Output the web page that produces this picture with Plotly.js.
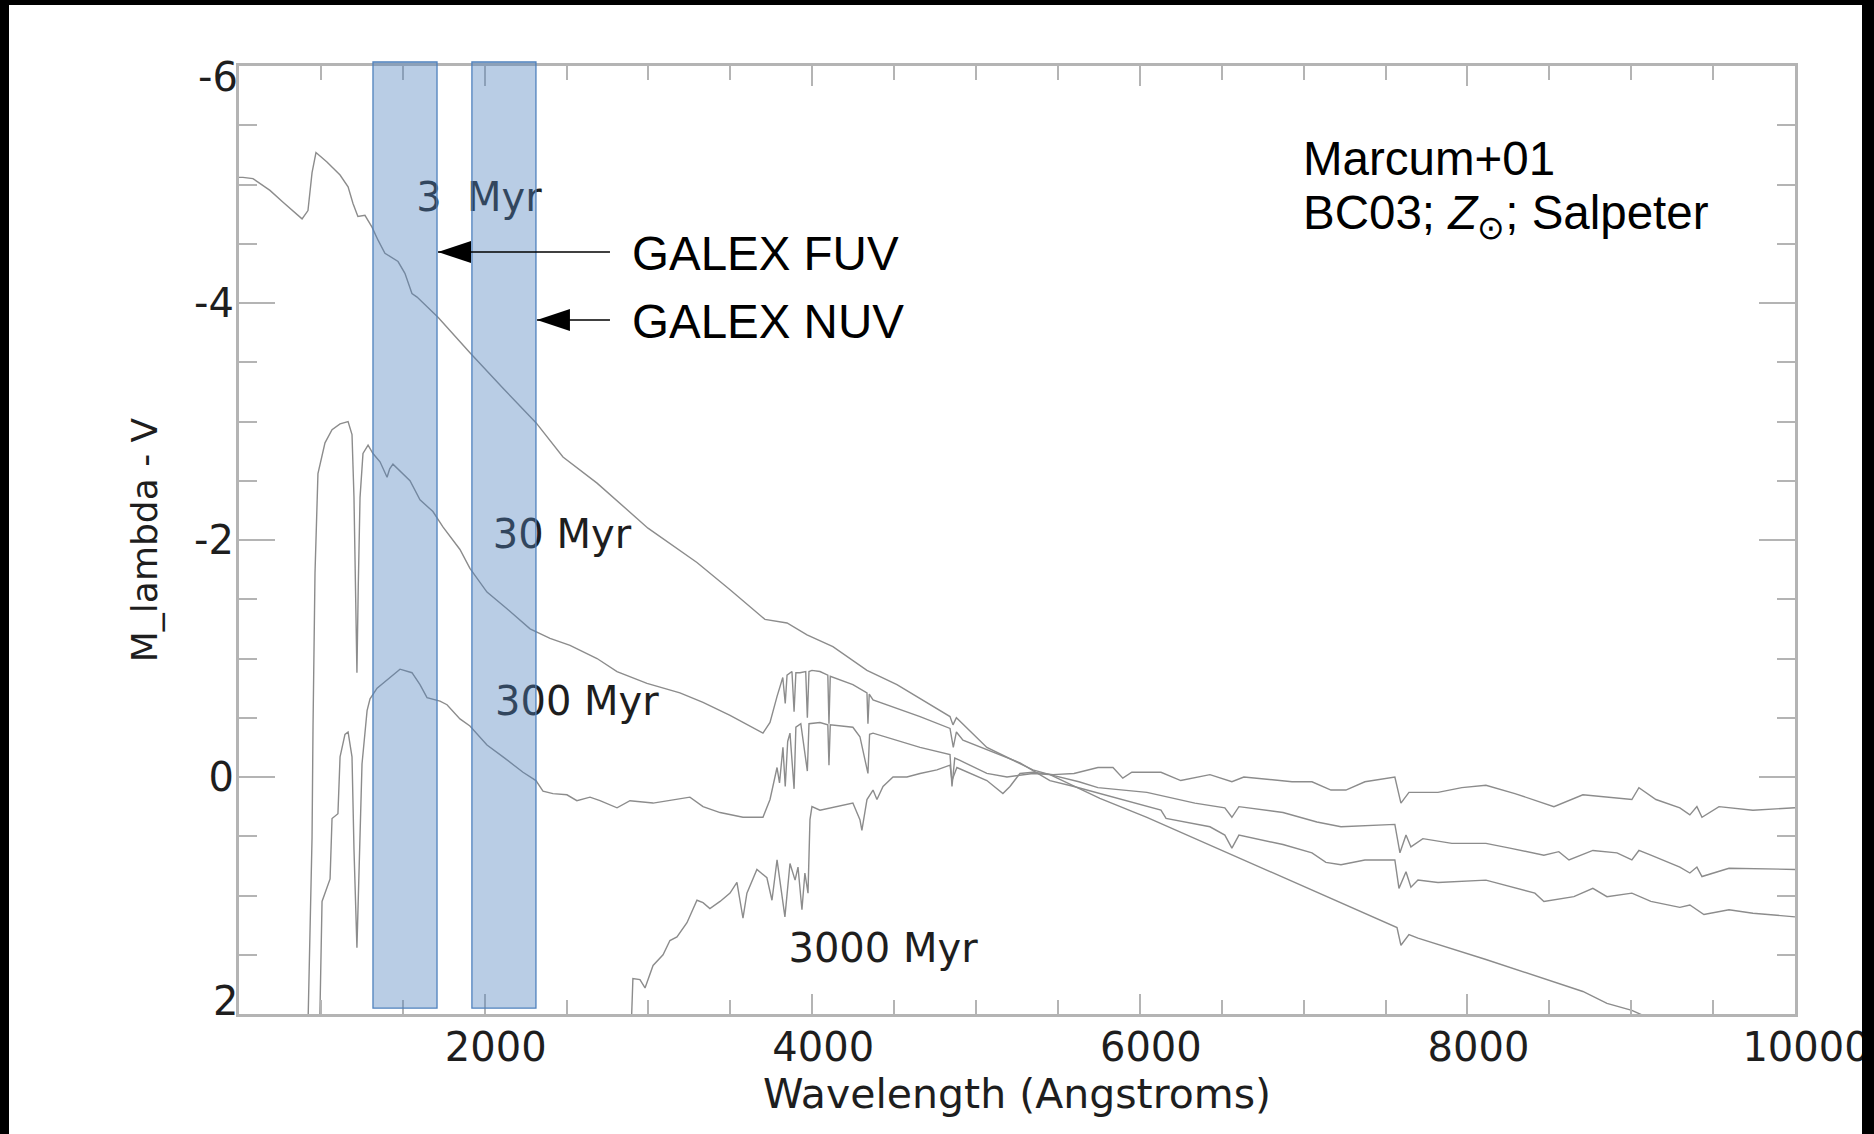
<!DOCTYPE html>
<html>
<head>
<meta charset="utf-8">
<script src="https://cdn.plot.ly/plotly-3.0.1.min.js"></script>
<style>
  html, body { margin: 0; padding: 0; background: #000; width: 1874px; height: 1134px; overflow: hidden; }
  #chart { position: absolute; left: 9px; top: 5px; width: 1853px; height: 1129px; }
</style>
</head>
<body>
<div id="chart"></div>
<script>
// ---- Data ----
const wave3 = [500, 524, 585, 689, 769, 885, 921, 946, 970, 1037, 1117, 1166, 1196, 1226, 1269, 1312, 1349, 1391, 1471, 1513, 1556, 1587, 1715, 1910, 2112, 2313, 2478, 2686, 2997, 3296, 3498, 3711, 3846, 3968, 4126, 4334, 4517, 4841, 4859, 4880, 5066, 5347, 5451, 5756, 6043, 6635, 7228, 7570, 7594, 7643, 7698, 8113, 8705, 8852, 9004, 9300];
const mag3 = [-5.06, -5.06, -5.05, -4.95, -4.85, -4.71, -4.78, -5.10, -5.27, -5.19, -5.08, -4.98, -4.84, -4.73, -4.74, -4.64, -4.53, -4.42, -4.35, -4.25, -4.08, -4.05, -3.88, -3.58, -3.28, -2.99, -2.70, -2.48, -2.10, -1.81, -1.58, -1.33, -1.30, -1.20, -1.10, -0.90, -0.78, -0.51, -0.44, -0.50, -0.25, -0.06, -0.02, 0.18, 0.34, 0.70, 1.06, 1.27, 1.42, 1.33, 1.36, 1.54, 1.81, 1.91, 1.97, 2.15];

const wave30 = [918, 946, 952, 964, 982, 1025, 1068, 1117, 1166, 1190, 1202, 1214, 1220, 1228, 1239, 1257, 1288, 1318, 1361, 1404, 1420, 1440, 1544, 1605, 1684, 1745, 1849, 1910, 2014, 2136, 2277, 2399, 2521, 2686, 2808, 2991, 3192, 3333, 3498, 3699, 3742, 3785, 3820, 3835, 3846, 3876, 3889, 3900, 3925, 3960, 3970, 3980, 3998, 4047, 4095, 4102, 4110, 4248, 4334, 4340, 4348, 4371, 4658, 4841, 4861, 4880, 4920, 5268, 5451, 5598, 5896, 6129, 6160, 6428, 6519, 6562, 6605, 6874, 7051, 7136, 7228, 7374, 7557, 7582, 7625, 7655, 7698, 7820, 8113, 8412, 8467, 8650, 8766, 8852, 9004, 9120, 9297, 9358, 9444, 9597, 9743, 10000];
const mag30 = [2.3, 0.51, -0.43, -1.72, -2.56, -2.82, -2.93, -2.98, -3.00, -2.89, -2.36, -1.40, -0.88, -1.60, -2.36, -2.73, -2.80, -2.73, -2.66, -2.53, -2.60, -2.64, -2.50, -2.34, -2.24, -2.11, -1.92, -1.76, -1.56, -1.42, -1.25, -1.17, -1.11, -1.00, -0.89, -0.79, -0.71, -0.63, -0.52, -0.37, -0.46, -0.68, -0.84, -0.62, -0.86, -0.89, -0.55, -0.88, -0.88, -0.89, -0.50, -0.89, -0.90, -0.89, -0.86, -0.45, -0.85, -0.78, -0.71, -0.45, -0.70, -0.65, -0.51, -0.41, -0.25, -0.38, -0.31, -0.12, 0.03, 0.08, 0.19, 0.28, 0.35, 0.42, 0.49, 0.60, 0.49, 0.57, 0.64, 0.72, 0.74, 0.70, 0.70, 0.94, 0.80, 0.93, 0.87, 0.89, 0.87, 0.98, 1.05, 1.01, 0.94, 1.01, 0.98, 1.05, 1.10, 1.08, 1.16, 1.12, 1.15, 1.18];

const wave300 = [990, 1007, 1056, 1068, 1104, 1117, 1147, 1166, 1190, 1202, 1220, 1239, 1251, 1282, 1300, 1343, 1404, 1465, 1483, 1556, 1605, 1648, 1727, 1770, 1849, 1910, 2014, 2112, 2234, 2313, 2356, 2417, 2502, 2563, 2643, 2704, 2808, 2887, 3028, 3253, 3333, 3437, 3577, 3699, 3742, 3785, 3800, 3821, 3835, 3850, 3864, 3889, 3900, 3930, 3970, 3980, 4047, 4095, 4102, 4110, 4248, 4291, 4340, 4350, 4371, 4658, 4841, 4853, 4870, 4902, 5066, 5189, 5347, 5451, 5628, 5744, 6043, 6336, 6519, 6562, 6605, 6874, 7081, 7228, 7557, 7588, 7625, 7655, 7728, 7905, 8113, 8259, 8467, 8558, 8620, 8766, 8913, 9004, 9047, 9120, 9297, 9358, 9401, 9432, 9597, 10000];
const mag300 = [2.3, 1.05, 0.86, 0.35, 0.31, -0.17, -0.36, -0.38, -0.17, 0.61, 1.44, 0.38, -0.11, -0.56, -0.66, -0.75, -0.82, -0.89, -0.91, -0.88, -0.78, -0.67, -0.64, -0.61, -0.49, -0.43, -0.27, -0.17, -0.04, 0.03, 0.12, 0.14, 0.15, 0.20, 0.17, 0.20, 0.26, 0.20, 0.22, 0.17, 0.25, 0.30, 0.34, 0.34, 0.19, -0.08, 0.05, -0.25, 0.08, -0.30, -0.37, 0.10, -0.42, -0.45, -0.05, -0.45, -0.46, -0.44, -0.10, -0.44, -0.42, -0.34, -0.03, -0.36, -0.37, -0.25, -0.19, 0.08, -0.16, -0.14, -0.03, 0.00, -0.03, -0.02, 0.04, 0.09, 0.13, 0.22, 0.26, 0.34, 0.25, 0.30, 0.38, 0.42, 0.40, 0.64, 0.49, 0.59, 0.52, 0.56, 0.56, 0.60, 0.66, 0.63, 0.70, 0.62, 0.64, 0.70, 0.62, 0.66, 0.76, 0.81, 0.76, 0.84, 0.77, 0.78];

const wave3000 = [2895, 2905, 2948, 2979, 3028, 3089, 3131, 3174, 3235, 3296, 3333, 3375, 3437, 3498, 3540, 3577, 3601, 3662, 3723, 3754, 3785, 3803, 3833, 3864, 3895, 3913, 3937, 3955, 3974, 3986, 3998, 4047, 4151, 4248, 4291, 4303, 4334, 4371, 4395, 4432, 4493, 4578, 4658, 4761, 4841, 4853, 4883, 4963, 5066, 5164, 5207, 5268, 5347, 5470, 5598, 5744, 5836, 5896, 5951, 6129, 6250, 6428, 6562, 6635, 6929, 7051, 7167, 7258, 7374, 7557, 7594, 7643, 7820, 7966, 8113, 8290, 8528, 8705, 8852, 9004, 9047, 9151, 9297, 9358, 9401, 9432, 9536, 9743, 10000];
const mag3000 = [2.1, 1.70, 1.71, 1.78, 1.59, 1.50, 1.38, 1.35, 1.23, 1.04, 1.06, 1.11, 1.05, 0.98, 0.89, 1.19, 0.98, 0.78, 0.85, 1.04, 0.70, 0.87, 1.18, 0.73, 0.87, 0.76, 1.12, 0.81, 0.98, 0.36, 0.25, 0.28, 0.25, 0.22, 0.36, 0.45, 0.19, 0.11, 0.19, 0.08, 0.00, 0.00, -0.03, -0.06, -0.10, 0.03, -0.08, -0.03, 0.03, 0.14, 0.08, -0.03, -0.04, -0.02, -0.03, -0.08, -0.08, 0.01, -0.04, -0.04, 0.03, -0.02, 0.04, 0.00, 0.04, 0.04, 0.11, 0.11, 0.04, 0.00, 0.22, 0.13, 0.13, 0.09, 0.07, 0.14, 0.25, 0.15, 0.17, 0.19, 0.09, 0.19, 0.26, 0.32, 0.25, 0.34, 0.25, 0.28, 0.26];

// curve labels
const ageLabels = ['3  Myr', '30 Myr', '300 Myr', '3000 Myr'];
const ageLabelX = [1965, 2472, 2563, 4432];
const ageLabelY = [-4.86, -2.02, -0.61, 1.48];

// GALEX bands (Angstrom)
const bandNames = ['GALEX FUV', 'GALEX NUV'];
const bandLo = [1318, 1922];
const bandHi = [1709, 2313];
const arrowTipX = [1715, 2319];
const arrowY = [-4.43, -3.857];
const arrowTailX = [2765, 2765];
const bandTextX = [2887, 2887];
const bandTextY = [-4.414, -3.84];

// axis ticks
const xTickVals = [2000, 4000, 6000, 8000, 10000];
const xTickText = ['2000', '4000', '6000', '8000', '10000'];
const yTickVals = [-6, -4, -2, 0, 2];
const yTickText = ['-6', '-4', '-2', '0', '2'];

// ---- Figure ----
const lineStyle = {color: '#8c8c8c', width: 1.4};
const idlFont = 'DejaVu Sans';
const textCol = '#1e1e1e';
const traces = [
  {x: wave3, y: mag3, mode: 'lines', line: lineStyle, hoverinfo: 'skip'},
  {x: wave30, y: mag30, mode: 'lines', line: lineStyle, hoverinfo: 'skip'},
  {x: wave300, y: mag300, mode: 'lines', line: lineStyle, hoverinfo: 'skip'},
  {x: wave3000, y: mag3000, mode: 'lines', line: lineStyle, hoverinfo: 'skip'},
  {x: ageLabelX, y: ageLabelY, text: ageLabels, mode: 'text', textposition: 'middle center',
   textfont: {family: idlFont, size: 40, color: textCol}, hoverinfo: 'skip', cliponaxis: false}
];

const shapes = [];
for (let i = 0; i < bandLo.length; i++) {
  shapes.push({type: 'rect', layer: 'above', xref: 'x', yref: 'paper',
    x0: bandLo[i], x1: bandHi[i], y0: 0.0063, y1: 1.0042,
    fillcolor: 'rgba(79,129,189,0.4)', line: {color: '#4F81BD', width: 1.3}});
}
for (let i = 0; i < arrowTipX.length; i++) {
  shapes.push({type: 'line', layer: 'above', xref: 'x', yref: 'y',
    x0: arrowTipX[i], x1: arrowTailX[i], y0: arrowY[i], y1: arrowY[i],
    line: {color: '#000', width: 1.6}});
  shapes.push({type: 'path', layer: 'above', xref: 'x', yref: 'y',
    xsizemode: 'pixel', ysizemode: 'pixel', xanchor: arrowTipX[i], yanchor: arrowY[i],
    path: 'M0,0L33,11L33,-11Z', fillcolor: '#000', line: {width: 0}});
}

const pptFont = {family: 'Liberation Sans, Arial, sans-serif', size: 47.5, color: '#000'};
const annotations = [];
for (let i = 0; i < bandNames.length; i++) {
  annotations.push({xref: 'x', yref: 'y', x: bandTextX[i], y: bandTextY[i], text: bandNames[i],
    showarrow: false, xanchor: 'left', yanchor: 'middle', font: pptFont});
}
annotations.push({xref: 'x', yref: 'y', x: 6984, y: -5.219, text: 'Marcum+01',
  showarrow: false, xanchor: 'left', yanchor: 'middle', font: pptFont});
annotations.push({xref: 'x', yref: 'y', x: 6984, y: -4.735, text: 'BC03; <i>Z</i><sub>⊙</sub>; Salpeter',
  showarrow: false, xanchor: 'left', yanchor: 'middle', font: pptFont});
// end tick labels of the y axis, drawn inside the frame like the original
annotations.push({xref: 'paper', yref: 'y', x: 0, y: yTickVals[0], text: yTickText[0], showarrow: false,
  xanchor: 'right', yanchor: 'middle', xshift: 1, yshift: -11, font: {family: idlFont, size: 40, color: textCol}});
annotations.push({xref: 'paper', yref: 'y', x: 0, y: yTickVals[4], text: yTickText[4], showarrow: false,
  xanchor: 'right', yanchor: 'middle', xshift: 1, yshift: 13, font: {family: idlFont, size: 40, color: textCol}});

const axisGray = '#b4b4b4';
const layout = {
  width: 1853, height: 1129,
  margin: {l: 230, r: 67, t: 61, b: 120, pad: 0},
  paper_bgcolor: '#fff', plot_bgcolor: '#fff',
  showlegend: false, hovermode: false,
  xaxis: {
    range: [500, 10000], tickmode: 'array', tickvals: xTickVals, ticktext: xTickText,
    ticks: 'inside', ticklen: 20, tickwidth: 2, tickcolor: axisGray,
    showline: true, linewidth: 3, linecolor: axisGray, mirror: 'allticks',
    showgrid: false, zeroline: false,
    minor: {tickmode: 'linear', tick0: 0, dtick: 500, ticks: 'inside', ticklen: 14, tickwidth: 2, tickcolor: axisGray, showgrid: false},
    tickfont: {family: idlFont, size: 40, color: textCol}, ticklabelshift: 11, ticklabelstandoff: -4,
    ticklabeloverflow: 'allow',
    title: {text: 'Wavelength (Angstroms)', font: {family: idlFont, size: 41, color: textCol}, standoff: 0}
  },
  yaxis: {
    range: [2, -6], tickmode: 'array', tickvals: yTickVals.slice(1, 4), ticktext: yTickText.slice(1, 4),
    ticks: 'inside', ticklen: 36, tickwidth: 2, tickcolor: axisGray,
    showline: true, linewidth: 3, linecolor: axisGray, mirror: 'allticks',
    showgrid: false, zeroline: false,
    minor: {tickmode: 'linear', tick0: 0, dtick: 0.5, ticks: 'inside', ticklen: 18, tickwidth: 2, tickcolor: axisGray, showgrid: false},
    tickfont: {family: idlFont, size: 40, color: textCol}, ticklabelstandoff: -6,
    title: {text: 'M_lambda - V', font: {family: idlFont, size: 36, color: textCol}, standoff: 26}
  },
  shapes: shapes,
  annotations: annotations
};

Plotly.newPlot('chart', traces, layout, {staticPlot: true, displayModeBar: false});
</script>
</body>
</html>
